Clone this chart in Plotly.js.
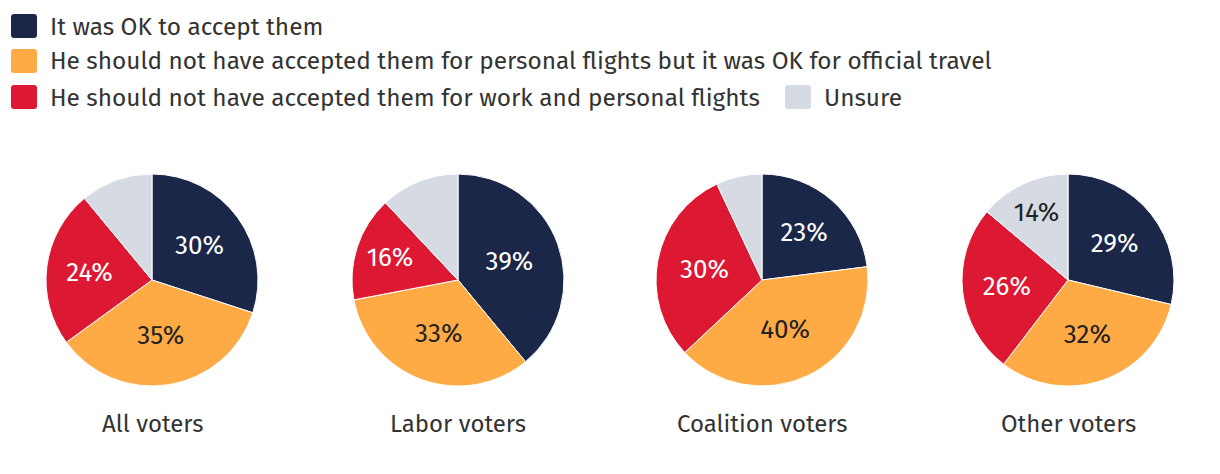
<!DOCTYPE html>
<html>
<head>
<meta charset="utf-8">
<script src="https://cdn.plot.ly/plotly-3.0.1.min.js"></script>
<style>html,body{margin:0;padding:0;background:#fff;}#chart{width:1220px;height:474px;}</style>
</head>
<body>
<div id="chart"></div>
<script>
const responses = [
  "It was OK to accept them",
  "He should not have accepted them for personal flights but it was OK for official travel",
  "He should not have accepted them for work and personal flights",
  "Unsure"
];
const groups = ["All voters", "Labor voters", "Coalition voters", "Other voters"];
const allVoters = [30, 35, 24, 11];
const laborVoters = [39, 33, 16, 12];
const coalitionVoters = [23, 40, 30, 7];
const otherVoters = [29, 32, 26, 14];
const showUnsureLabel = [false, false, false, true];

const colors = ["#1b2749", "#ffab45", "#dc1832", "#d6dbe3"];
const textColors = ["#ffffff", "#222222", "#ffffff", "#222222"];
const FONT = "'Fira Sans', 'Noto Sans', sans-serif";
const W = 1220, H = 474;

const series = [allVoters, laborVoters, coalitionVoters, otherVoters];
const centersX = [152, 458, 762, 1068];
const centerY = 280, R = 106;

const data = series.map((vals, i) => ({
  type: "pie",
  values: vals,
  labels: responses,
  text: vals.map((v, j) => (j === 3 && !showUnsureLabel[i]) ? "" : v + "%"),
  textinfo: "text",
  textposition: "inside",
  insidetextorientation: "horizontal",
  insidetextfont: {family: FONT, size: 26, color: textColors},
  sort: false,
  direction: "clockwise",
  rotation: 0,
  marker: {colors: colors, line: {color: "#ffffff", width: 1}},
  hoverinfo: "label+percent",
  showlegend: false,
  domain: {
    x: [(centersX[i] - R) / W, (centersX[i] + R) / W],
    y: [(H - centerY - R) / H, (H - centerY + R) / H]
  },
  name: groups[i]
}));

const shapes = [];
const annotations = [];
// legend rows: [center y, swatch x]
const legendRows = [[26, 11], [61, 11], [97, 11], [97, 785]];
responses.forEach((r, i) => {
  const [cy, x0] = legendRows[i];
  const sw = 26, sh = 24, rr = 3;
  const x1 = x0 + sw, y0 = cy - sh / 2, y1 = cy + sh / 2;
  const px = x => x / W, py = y => 1 - y / H;
  const path = `M${px(x0+rr)},${py(y0)} L${px(x1-rr)},${py(y0)} Q${px(x1)},${py(y0)} ${px(x1)},${py(y0+rr)} L${px(x1)},${py(y1-rr)} Q${px(x1)},${py(y1)} ${px(x1-rr)},${py(y1)} L${px(x0+rr)},${py(y1)} Q${px(x0)},${py(y1)} ${px(x0)},${py(y1-rr)} L${px(x0)},${py(y0+rr)} Q${px(x0)},${py(y0)} ${px(x0+rr)},${py(y0)} Z`;
  shapes.push({type: "path", xref: "paper", yref: "paper", path: path, fillcolor: colors[i], line: {width: 0}});
  annotations.push({
    xref: "paper", yref: "paper", x: (x0 + 37) / W, y: 1 - cy / H,
    xanchor: "left", yanchor: "middle", showarrow: false, text: r,
    font: {family: FONT, size: 24.4, color: "#333333"}
  });
});
groups.forEach((g, i) => {
  annotations.push({
    xref: "paper", yref: "paper", x: centersX[i] / W, y: 1 - 424 / H,
    xanchor: "center", yanchor: "middle", showarrow: false, text: g,
    font: {family: FONT, size: 24, color: "#333333"}
  });
});

const layout = {
  width: W, height: H,
  margin: {l: 0, r: 0, t: 0, b: 0},
  paper_bgcolor: "#ffffff",
  showlegend: false,
  shapes: shapes,
  annotations: annotations,
  font: {family: FONT}
};
Plotly.newPlot("chart", data, layout, {displayModeBar: false, staticPlot: true});
</script>
</body>
</html>
